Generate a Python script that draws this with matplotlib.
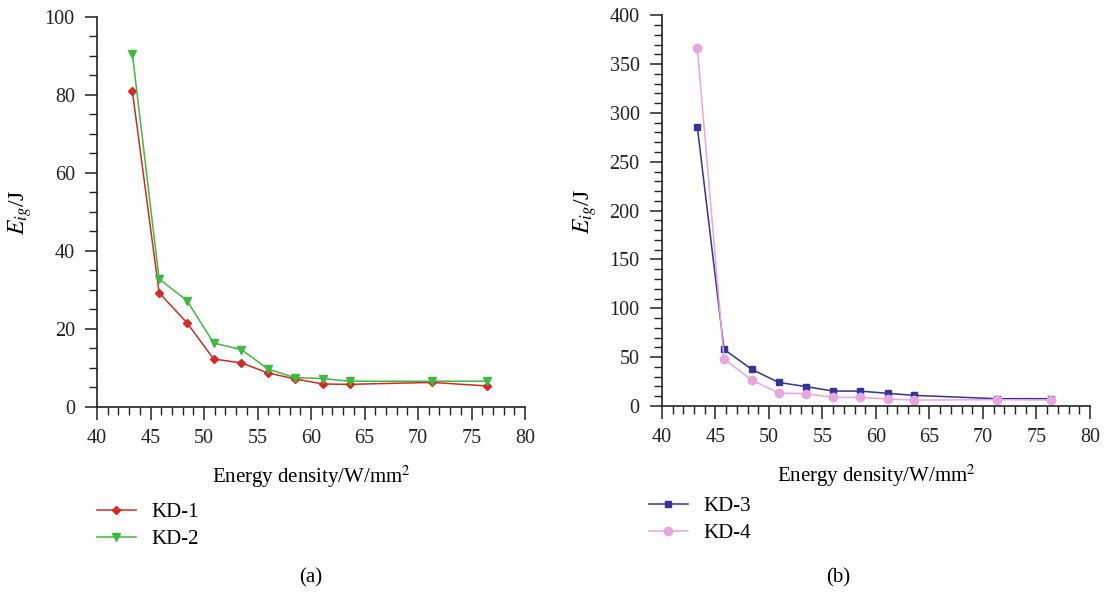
import matplotlib
matplotlib.use("Agg")
import matplotlib.pyplot as plt
from matplotlib.ticker import MultipleLocator

plt.rcParams["font.family"] = ["Liberation Serif", "DejaVu Serif"]
plt.rcParams["mathtext.fontset"] = "stix"

# energy density (W/mm^2), shared by all four series
energy = [43.3, 45.8, 48.4, 50.9, 53.5, 56.0, 58.5, 61.1, 63.6, 71.3, 76.4]

kd1 = [81.0, 29.3, 21.6, 12.3, 11.3, 8.7, 7.2, 5.9, 5.8, 6.3, 5.4]
kd2 = [90.6, 32.8, 27.3, 16.4, 14.7, 9.7, 7.5, 7.3, 6.6, 6.6, 6.6]
kd3 = [286.1, 58.0, 37.5, 24.2, 19.8, 15.3, 15.3, 13.0, 10.9, 7.5, 7.5]
kd4 = [366.9, 48.1, 26.6, 13.3, 12.6, 8.9, 8.9, 7.2, 6.1, 6.5, 6.1]

fig = plt.figure(figsize=(11.04, 5.93), dpi=100)
ax1 = fig.add_axes([0.0879, 0.3137, 0.3877, 0.6577])
ax2 = fig.add_axes([0.5996, 0.3153, 0.3877, 0.659])


def style(ax, ymax, ymajor, yminor):
    ax.set_xlim(40, 80)
    ax.set_ylim(0, ymax)
    ax.xaxis.set_major_locator(MultipleLocator(5))
    ax.xaxis.set_minor_locator(MultipleLocator(1))
    ax.yaxis.set_major_locator(MultipleLocator(ymajor))
    ax.yaxis.set_minor_locator(MultipleLocator(yminor))
    for s in ("top", "right"):
        ax.spines[s].set_visible(False)
    for s in ("left", "bottom"):
        ax.spines[s].set_linewidth(1.2)
        ax.spines[s].set_color("#222222")
    ax.tick_params(which="major", length=9, width=1.1, labelsize=14.5, colors="#222222", pad=7)
    ax.tick_params(which="minor", length=6, width=1.0, colors="#222222")
    ax.set_xlabel("Energy density/W/mm$^2$", fontsize=15, labelpad=11)
    ax.set_ylabel("$E_{ig}$/J", fontsize=17, labelpad=8)


l1, = ax1.plot(energy, kd1, color="#d42a22", marker="D", markersize=4.5, lw=1.1, label="KD-1")
l2, = ax1.plot(energy, kd2, color="#3dbb3d", marker="v", markersize=5.5, lw=1.1, label="KD-2")
style(ax1, 100, 20, 5)

l3, = ax2.plot(energy, kd3, color="#333399", marker="s", markersize=5, lw=1.1, label="KD-3")
l4, = ax2.plot(energy, kd4, color="#e8a6e0", marker="o", markersize=6, lw=1.1, label="KD-4")
style(ax2, 400, 50, 10)

fig.legend(handles=[l1, l2], loc="upper left", bbox_to_anchor=(0.071, 0.184),
           frameon=False, fontsize=15, handlelength=1.85, labelspacing=0.35, handletextpad=0.77)
fig.legend(handles=[l3, l4], loc="upper left", bbox_to_anchor=(0.571, 0.194),
           frameon=False, fontsize=15, handlelength=1.85, labelspacing=0.35, handletextpad=0.77)

fig.text(311 / 1104, 1 - 578 / 593, "(a)", ha="center", va="center", fontsize=15)
fig.text(838 / 1104, 1 - 578 / 593, "(b)", ha="center", va="center", fontsize=15)

fig.savefig("out.png", dpi=100)
